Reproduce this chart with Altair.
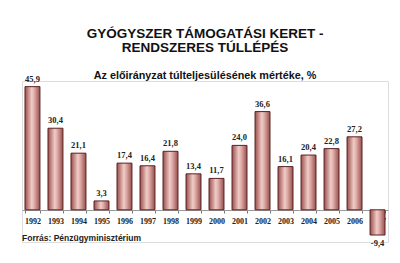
import altair as alt
import pandas as pd

years = ["1992", "1993", "1994", "1995", "1996", "1997", "1998", "1999",
         "2000", "2001", "2002", "2003", "2004", "2005", "2006", "2007"]
values = [45.9, 30.4, 21.1, 3.3, 17.4, 16.4, 21.8, 13.4,
          11.7, 24.0, 36.6, 16.1, 20.4, 22.8, 27.2, -9.4]

title_lines = ["GYÓGYSZER TÁMOGATÁSI KERET -", "RENDSZERES TÚLLÉPÉS"]
subtitle = "Az előirányzat túlteljesülésének mértéke, %"
source = "Forrás: Pénzügyminisztérium"

df = pd.DataFrame({
    "year": years,
    "value": values,
    "label": [f"{v:.1f}".replace(".", ",") for v in values],
})

xenc = alt.X("year:N", sort=years,
             scale=alt.Scale(paddingInner=0.35, paddingOuter=0.13),
             axis=alt.Axis(title=None, labelAngle=0, offset=-32,
                           labelFont="Liberation Serif", labelFontSize=8,
                           labelFontWeight="bold", labelColor="#222222",
                           labelPadding=4, tickBand="extent", tickSize=3,
                           tickColor="#777777", domainColor="#999999",
                           domainWidth=1, grid=False))
yscale = alt.Scale(domain=[-12, 48], nice=False, zero=False)

grad = alt.Gradient(
    gradient="linear", x1=0, x2=1, y1=0, y2=0,
    stops=[alt.GradientStop(offset=0, color="#9a4e4c"),
           alt.GradientStop(offset=0.45, color="#f0ccc7"),
           alt.GradientStop(offset=0.6, color="#e2b0ab"),
           alt.GradientStop(offset=1, color="#97504e")])

base = alt.Chart(df).encode(x=xenc)

bars = base.mark_bar(fill=grad, stroke="#5a2222", strokeWidth=1).encode(
    y=alt.Y("value:Q", scale=yscale, axis=None),
    y2=alt.datum(0),
)

pos_labels = base.transform_filter("datum.value >= 0").mark_text(
    font="Liberation Serif", fontSize=8.5, fontWeight="bold",
    baseline="bottom", dy=-3, color="#222222"
).encode(y=alt.Y("value:Q", scale=yscale), text="label:N")

neg_labels = base.transform_filter("datum.value < 0").mark_text(
    font="Liberation Serif", fontSize=8.5, fontWeight="bold",
    baseline="top", dy=4, color="#222222"
).encode(y=alt.Y("value:Q", scale=yscale), text="label:N")

src = alt.Chart(pd.DataFrame({"t": [source]})).mark_text(
    font="Liberation Sans", fontSize=8.5, fontWeight="bold", align="left",
    baseline="middle", color="#222222"
).encode(x=alt.value(0), y=alt.value(157), text="t:N")

chart = alt.layer(bars, pos_labels, neg_labels, src).properties(
    width=366, height=161,
    autosize=alt.AutoSizeParams(type="none"),
    padding={"left": 22, "top": 81, "right": 12, "bottom": 21},
    title=alt.TitleParams(
        text=title_lines, subtitle=subtitle, anchor="middle", frame="group",
        font="Liberation Sans", fontSize=13.5, fontWeight="bold",
        lineHeight=14, color="#111111",
        subtitleFont="Liberation Sans", subtitleFontSize=10.8,
        subtitleFontWeight="bold", subtitleColor="#111111",
        subtitlePadding=15, offset=-6),
).configure_view(stroke=None).configure(background="white")

chart.save("out.html", embed_options={"renderer": "svg", "actions": False})
